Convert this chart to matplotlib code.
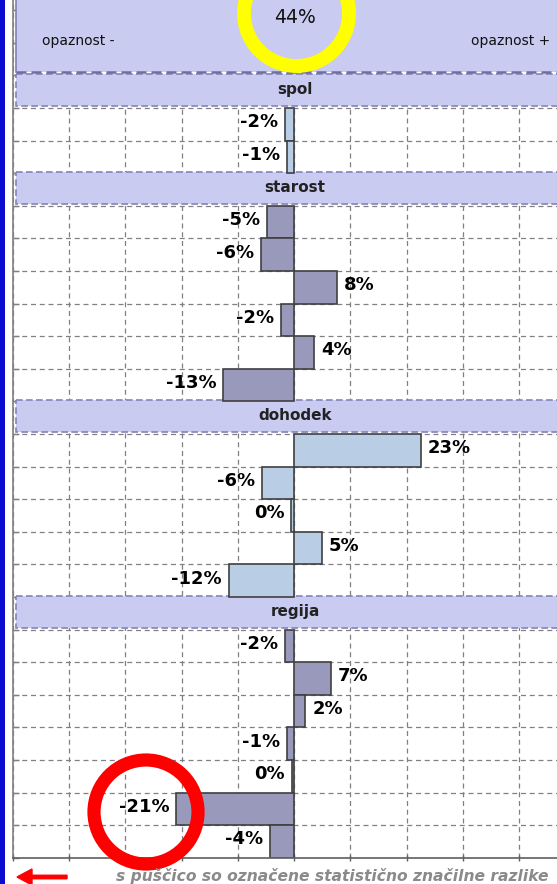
import matplotlib.pyplot as plt
from matplotlib.patches import Rectangle, Circle, FancyArrow

# data (percent difference vs. total)
total_label = "44%"
groups = ["spol", "starost", "dohodek", "regija"]
spol = [-1.6, -1.2]
starost = [-4.8, -5.9, 7.7, -2.3, 3.6, -12.6]
dohodek = [22.6, -5.7, -0.5, 5.0, -11.6]
regija = [-1.6, 6.6, 2.0, -1.3, -0.4, -20.9, -4.2]
spol_lbl = ["-2%", "-1%"]
starost_lbl = ["-5%", "-6%", "8%", "-2%", "4%", "-13%"]
dohodek_lbl = ["23%", "-6%", "0%", "5%", "-12%"]
regija_lbl = ["-2%", "7%", "2%", "-1%", "0%", "-21%", "-4%"]
group_colors = ["#B9CDE5", "#9999BB", "#B9CDE5", "#9999BB"]
footer = "s puščico so označene statistično značilne razlike"

W, H = 557, 884
fig = plt.figure(figsize=(W / 100, H / 100), dpi=100)
fig.patch.set_facecolor("white")

x0 = 12.8      # left spine (px)
zero = 294.0   # zero line (px)
pxper = 5.625  # px per percent
xmax = (W - zero) / pxper
ax = fig.add_axes([x0 / W, (H - 857.8) / H, 1 - x0 / W, 857.8 / H])
ax.set_xlim(-50, xmax)
ax.set_ylim(26, -0.313)

band_fc = "#C9CBF1"
band_ec = "#8484B8"
band_x = -50 + 3.2 / pxper

# top band (total)
ax.add_patch(Rectangle((band_x, -2), 120, 3.9, facecolor=band_fc, edgecolor="none", zorder=1.5))
ax.plot([band_x, band_x], [-2, 1.9], color="#8080B0", lw=1.2, zorder=1.6)
ax.plot([band_x, 60], [1.9, 1.9], color="#6E6EA0", lw=1.8, ls=(0, (4, 2)), zorder=1.6, clip_on=True)
ax.text(0.2, 0.22, total_label, ha="center", va="center", fontsize=13.5, color="#111111")
ax.text(-44.8, 0.95, "opaznost -", ha="left", va="center", fontsize=10, color="#111111")
ax.text(45.6, 0.95, "opaznost +", ha="right", va="center", fontsize=10, color="#111111")

data = [spol, starost, dohodek, regija]
labels = [spol_lbl, starost_lbl, dohodek_lbl, regija_lbl]
slot = 2
for name, vals, lbls, col in zip(groups, data, labels, group_colors):
    ax.add_patch(Rectangle((band_x, slot - 0.03), 120, 0.97, facecolor=band_fc,
                           edgecolor=band_ec, lw=1.2, ls=(0, (4, 2)), zorder=1.5))
    ax.text(0.2, slot + 0.44, name, ha="center", va="center", fontsize=11,
            fontweight="bold", color="#222222", zorder=3)
    ys = [slot + 1.5 + i for i in range(len(vals))]
    ax.barh(ys, vals, height=1.0, color=col, edgecolor="#404040", lw=1.2, zorder=2)
    for y, v, t in zip(ys, vals, lbls):
        off = 5 if v > 0 else -5
        ax.annotate(t, xy=(v, y), xytext=(off, 1.5), textcoords="offset points",
                    ha="left" if v > 0 else "right", va="center",
                    fontsize=13, fontweight="bold", color="black", zorder=3)
    slot += len(vals) + 1

ax.set_xticks(range(-50, 50, 10))
ax.set_yticks(range(0, 27))
ax.set_xticklabels([])
ax.set_yticklabels([])
ax.set_axisbelow(True)
ax.grid(True, color="#808080", lw=0.9, ls=(0, (4, 3)))
ax.tick_params(axis="y", direction="in", length=4, color="#808080", width=1)
ax.tick_params(axis="x", direction="inout", length=5, color="#606060", width=1)
for s in ["top", "right"]:
    ax.spines[s].set_visible(False)
ax.spines["left"].set_color("#808080")
ax.spines["bottom"].set_color("#606060")
ax.spines["left"].set_linewidth(1.2)
ax.spines["bottom"].set_linewidth(1.2)

# overlay in pixel coordinates for decorations
ov = fig.add_axes([0, 0, 1, 1], zorder=10)
ov.set_xlim(0, W)
ov.set_ylim(H, 0)
ov.axis("off")
ov.patch.set_alpha(0)
ov.add_patch(Rectangle((0, 0), 5, H, facecolor="#0A0AD0", edgecolor="none"))
ov.add_patch(Circle((296.5, 13.5), 52.5, fill=False, edgecolor="#FFFF00", lw=10))
ov.add_patch(Circle((146, 812), 52, fill=False, edgecolor="#FF0000", lw=9.5))
ov.add_patch(FancyArrow(67, 877, -50, 0, width=3.5, head_width=16, head_length=15,
                        length_includes_head=True, color="#FF0000"))
ov.text(116, 881, footer, ha="left", va="baseline", fontsize=11.2, fontweight="bold",
        style="italic", color="#8A8A8A")

fig.savefig("out.png", dpi=100)
